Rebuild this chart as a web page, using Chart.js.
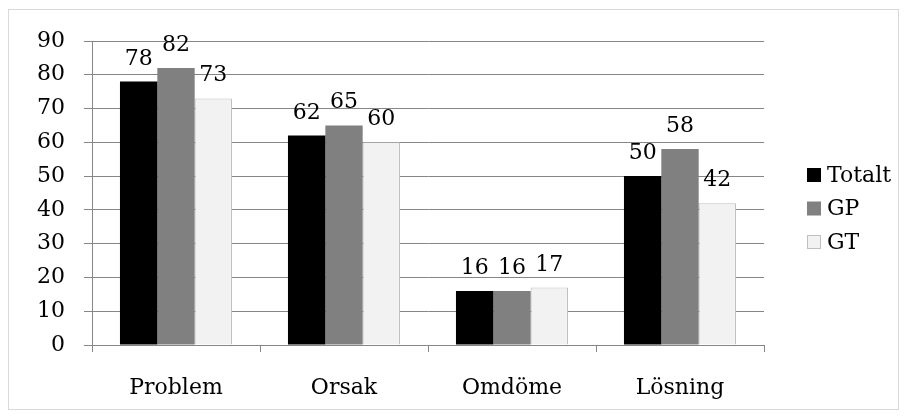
<!DOCTYPE html>
<html>
<head>
<meta charset="utf-8">
<script src="https://cdn.jsdelivr.net/npm/chart.js@4"></script>
<style>
  body { margin: 0; background: #fff; }
  #wrap { position: relative; width: 907px; height: 418px; }
  #frame { position: absolute; left: 8px; top: 9px; width: 889px; height: 399px; border: 1px solid #d9d9d9; }
  #graph { position: absolute; left: 0; top: 0; }
</style>
</head>
<body>
<div id="wrap">
  <div id="frame"></div>
  <canvas id="graph" width="907" height="418"></canvas>
</div>
<script>
const categories = ['Problem', 'Orsak', 'Omdöme', 'Lösning'];
const totalt = [78, 62, 16, 50];
const gp = [82, 65, 16, 58];
const gt = [73, 60, 17, 42];
const yMax = 90;
const yStep = 10;

const font = { family: 'DejaVu Serif', size: 22 };
const gridColor = '#868686';

// value labels above every bar
const barLabels = {
  id: 'barLabels',
  afterDatasetsDraw(chart) {
    const ctx = chart.ctx;
    ctx.save();
    ctx.font = '22px "DejaVu Serif"';
    ctx.fillStyle = '#000';
    ctx.textAlign = 'center';
    ctx.textBaseline = 'alphabetic';
    chart.data.datasets.forEach((ds, i) => {
      chart.getDatasetMeta(i).data.forEach((bar, j) => {
        ctx.fillText(ds.data[j], bar.x, bar.y - 17);
      });
    });
    ctx.restore();
  }
};

// legend on the right, Excel style
const sideLegend = {
  id: 'sideLegend',
  afterDraw(chart) {
    const ctx = chart.ctx;
    ctx.save();
    ctx.font = '22px "DejaVu Serif"';
    ctx.textBaseline = 'middle';
    chart.data.datasets.forEach((ds, i) => {
      const y = 175 + i * 33.5;
      ctx.fillStyle = ds.backgroundColor;
      ctx.fillRect(807, y - 7, 14, 14);
      if (ds.borderWidth) {
        ctx.strokeStyle = ds.borderColor;
        ctx.lineWidth = 1;
        ctx.strokeRect(807.5, y - 6.5, 13, 13);
      }
      ctx.fillStyle = '#000';
      ctx.fillText(ds.label, 827, y + 1);
    });
    ctx.restore();
  }
};

const ctx1 = document.getElementById('graph').getContext('2d');
new Chart(ctx1, {
  type: 'bar',
  data: {
    labels: categories,
    datasets: [
      { label: 'Totalt', data: totalt, backgroundColor: '#000000', borderWidth: 0 },
      { label: 'GP', data: gp, backgroundColor: '#808080', borderWidth: 0 },
      { label: 'GT', data: gt, backgroundColor: '#f2f2f2', borderColor: '#bfbfbf', borderWidth: 1 }
    ]
  },
  options: {
    responsive: false,
    animation: false,
    categoryPercentage: 0.667,
    barPercentage: 1,
    layout: { padding: { left: 0, right: 143, top: 41, bottom: 0 } },
    plugins: { legend: { display: false }, tooltip: { enabled: false } },
    scales: {
      x: {
        grid: { display: true, drawOnChartArea: false, color: gridColor, tickLength: 7 },
        border: { color: gridColor },
        ticks: { font: font, color: '#000', padding: 23 },
        afterFit(s) { s.height = 73; }
      },
      y: {
        min: 0,
        max: yMax,
        grid: { color: gridColor, tickLength: 8 },
        border: { color: gridColor },
        ticks: { stepSize: yStep, font: font, color: '#000', padding: 19 },
        afterFit(s) { s.width = 92; }
      }
    }
  },
  plugins: [barLabels, sideLegend]
});
</script>
</body>
</html>
